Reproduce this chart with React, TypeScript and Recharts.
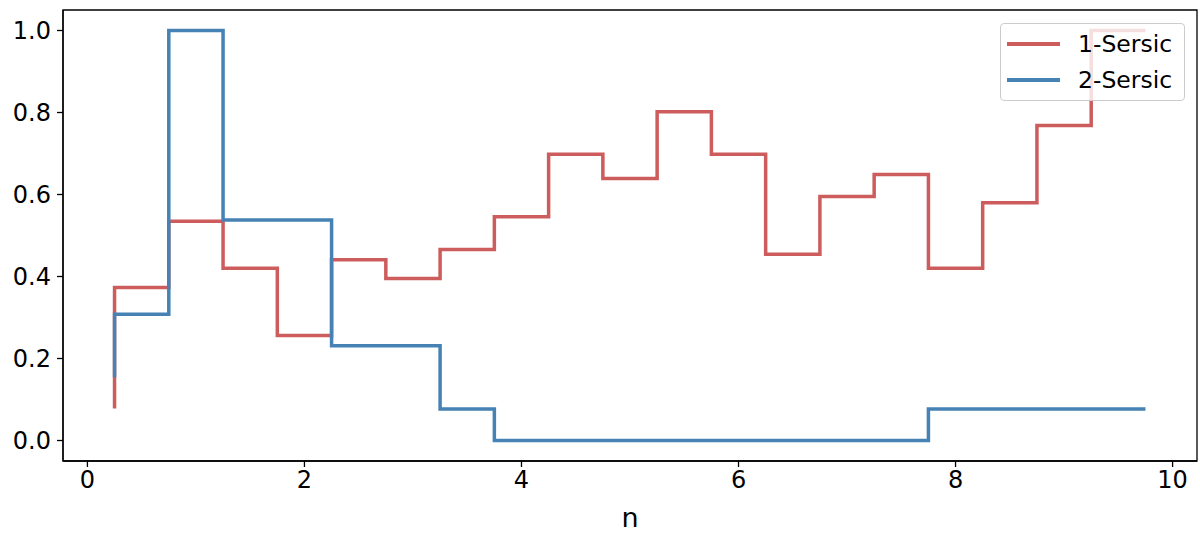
import { LineChart, Line, XAxis, YAxis, ReferenceArea } from "recharts";

// bin edges of the step histogram (n)
const binEdges = [
  0.25, 0.75, 1.25, 1.75, 2.25, 2.75, 3.25, 3.75, 4.25, 4.75,
  5.25, 5.75, 6.25, 6.75, 7.25, 7.75, 8.25, 8.75, 9.25, 9.75,
];

// normalised counts, drawn "pre" style: value i holds on (edge i-1, edge i]
const oneSersic = [
  0.078, 0.373, 0.535, 0.42, 0.256, 0.441, 0.395, 0.466, 0.546, 0.698,
  0.639, 0.802, 0.698, 0.454, 0.595, 0.649, 0.42, 0.58, 0.768, 1.0,
];
const twoSersic = [
  0.154, 0.308, 1.0, 0.538, 0.538, 0.231, 0.231, 0.077, 0, 0,
  0, 0, 0, 0, 0, 0, 0.077, 0.077, 0.077, 0.077,
];

const xTicks = [0, 2, 4, 6, 8, 10];
const yTicks = [0, 0.2, 0.4, 0.6, 0.8, 1.0];
const xDomain = [-0.225, 10.225];
const yDomain = [-0.05, 1.05];

const RED = "#cd5c5c";
const BLUE = "#4682b4";
const FONT = "DejaVu Sans, sans-serif";

const rows = binEdges.map((n, i) => ({ n, one: oneSersic[i], two: twoSersic[i] }));

const legendItems = [
  { label: "1-Sersic", color: RED },
  { label: "2-Sersic", color: BLUE },
];

// legend drawn as an overlay so it doesn't eat plot space
function LegendBox() {
  return (
    <div
      style={{
        position: "absolute",
        left: 1000,
        top: 23,
        width: 185,
        height: 78,
        boxSizing: "border-box",
        border: "1px solid #cccccc",
        borderRadius: 4,
        background: "rgba(255,255,255,0.8)",
        fontFamily: FONT,
        fontSize: 23.5,
        color: "#000",
        paddingTop: 2,
      }}
    >
      {legendItems.map((it) => (
        <div key={it.label} style={{ display: "flex", alignItems: "center", height: 36 }}>
          <span
            style={{
              display: "inline-block",
              width: 53,
              height: 3.5,
              marginLeft: 6,
              marginRight: 18,
              background: it.color,
            }}
          />
          <span>{it.label}</span>
        </div>
      ))}
    </div>
  );
}

export default function App() {
  return (
    <div style={{ position: "absolute", left: 0, top: 0, width: 1200, height: 537, background: "#fff" }}>
      <LineChart
        width={1200}
        height={537}
        data={rows}
        margin={{ top: 10, right: 3, bottom: 0, left: 0 }}
      >
        <XAxis
          dataKey="n"
          type="number"
          domain={xDomain}
          ticks={xTicks}
          allowDataOverflow
          height={76}
          tickSize={6}
          tickMargin={4}
          stroke="#000"
          strokeWidth={1.3}
          tick={{ fill: "#000", fontSize: 24, fontFamily: FONT }}
          label={{ value: "n", position: "insideBottom", offset: 10, fill: "#000", fontSize: 27, fontFamily: FONT }}
        />
        <YAxis
          type="number"
          domain={yDomain}
          ticks={yTicks}
          allowDataOverflow
          width={63}
          tickSize={6}
          tickMargin={6}
          stroke="#000"
          strokeWidth={1.3}
          tickFormatter={(v: number) => v.toFixed(1)}
          tick={{ fill: "#000", fontSize: 24, fontFamily: FONT }}
        />
        <Line
          dataKey="one"
          type="stepBefore"
          stroke={RED}
          strokeWidth={3.5}
          dot={false}
          isAnimationActive={false}
        />
        <Line
          dataKey="two"
          type="stepBefore"
          stroke={BLUE}
          strokeWidth={3.5}
          dot={false}
          isAnimationActive={false}
        />
        {/* axes frame */}
        <ReferenceArea
          x1={xDomain[0]}
          x2={xDomain[1]}
          y1={yDomain[0]}
          y2={yDomain[1]}
          fill="none"
          stroke="#000"
          strokeWidth={1.3}
          ifOverflow="visible"
        />
      </LineChart>
      <LegendBox />
    </div>
  );
}
